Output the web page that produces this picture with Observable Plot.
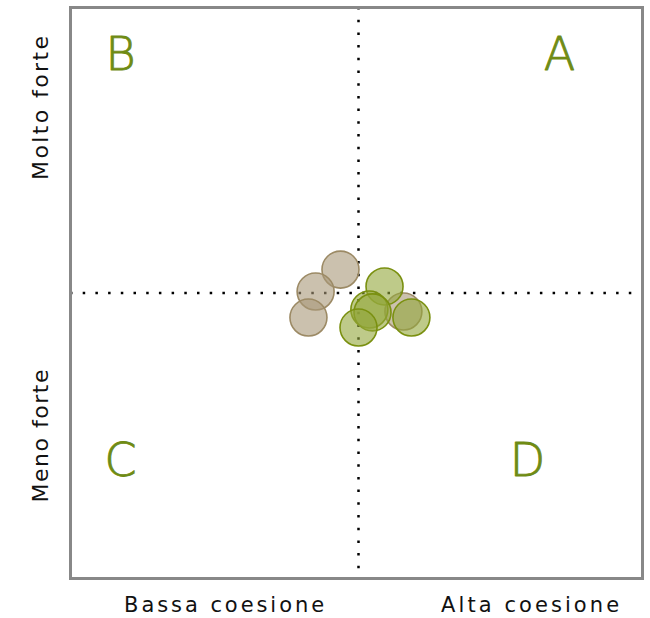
<!DOCTYPE html>
<html>
<head>
<meta charset="utf-8">
<script src="https://cdn.jsdelivr.net/npm/d3@7"></script>
<script src="https://cdn.jsdelivr.net/npm/@observablehq/plot@0.6"></script>
<style>
  html, body { margin: 0; padding: 0; background: #fff; }
  #chart svg { display: block; }
</style>
</head>
<body>
<div id="chart"></div>
<script>
// Series: cohesion (x) vs strength (y), centered at 0
const groups = ["serie1", "serie1", "serie1", "serie1", "serie2", "serie2", "serie2", "serie2", "serie2"];
const cohesion = [-0.063, -0.150, -0.175, 0.157, 0.091, 0.038, 0.049, 0.000, 0.185];
const strength = [0.082, 0.005, -0.086, -0.065, 0.023, -0.058, -0.068, -0.121, -0.086];

// Quadrant letters
const quadLetters = ["B", "A", "C", "D"];
const quadX = [-0.832, 0.703, -0.832, 0.591];
const quadY = [0.832, 0.832, -0.590, -0.590];

// Axis tick labels
const xTickValues = [-0.47, 0.60];
const xTickLabels = ["Bassa coesione", "Alta coesione"];
const yTickValues = [0.648, -0.501];
const yTickLabels = ["Molto forte", "Meno forte"];

const points = groups.map((g, i) => ({group: g, x: cohesion[i], y: strength[i]}));
const letters = quadLetters.map((l, i) => ({label: l, x: quadX[i], y: quadY[i]}));

const FONT = "DejaVu Sans";

const chart = Plot.plot({
  width: 650,
  height: 618,
  marginLeft: 70,
  marginRight: 8,
  marginTop: 7,
  marginBottom: 40,
  style: {fontFamily: FONT, background: "#fff"},
  x: {domain: [-1.007, 0.993], axis: null},
  y: {domain: [-1, 1], axis: null},
  color: {domain: ["serie1", "serie2"], range: ["#a89878", "#93a63a"]},
  marks: [
    Plot.ruleX([0], {stroke: "#000", strokeWidth: 2.5, strokeDasharray: "2.5,10.2"}),
    Plot.ruleY([0], {stroke: "#000", strokeWidth: 2.5, strokeDasharray: "2.5,10.2"}),
    Plot.dot(points, {
      x: "x", y: "y", r: 18.5,
      fill: "group", fillOpacity: 0.6,
      stroke: d => d.group === "serie1" ? "#9c8a65" : "#7a9010",
      strokeWidth: 1.6
    }),
    Plot.text(letters, {
      x: "x", y: "y", text: "label", fill: "#6f8b14",
      stroke: "#6f8b14", strokeWidth: 0.9, fontSize: 46, fontWeight: 300
    }),
    Plot.axisX(xTickValues, {
      tickSize: 0, tickPadding: 19, tickFormat: (d, i) => xTickLabels[i],
      fontSize: 21, fill: "#111", label: null
    }),
    Plot.axisY(yTickValues, {
      tickSize: 0, tickPadding: 23, tickRotate: -90, tickFormat: (d, i) => yTickLabels[i],
      fontSize: 22, fill: "#111", label: null, textAnchor: "middle"
    }),
    Plot.frame({stroke: "#888", strokeWidth: 3})
  ]
});

// stretch label widths to match the wide original typeface
const widths = {"Bassa coesione": 200, "Alta coesione": 178, "Molto forte": 144, "Meno forte": 133};
chart.querySelectorAll("text").forEach(t => {
  const w = widths[t.textContent.trim()];
  if (w) { t.setAttribute("textLength", w); t.setAttribute("lengthAdjust", "spacing"); }
});

document.getElementById("chart").appendChild(chart);
</script>
</body>
</html>
